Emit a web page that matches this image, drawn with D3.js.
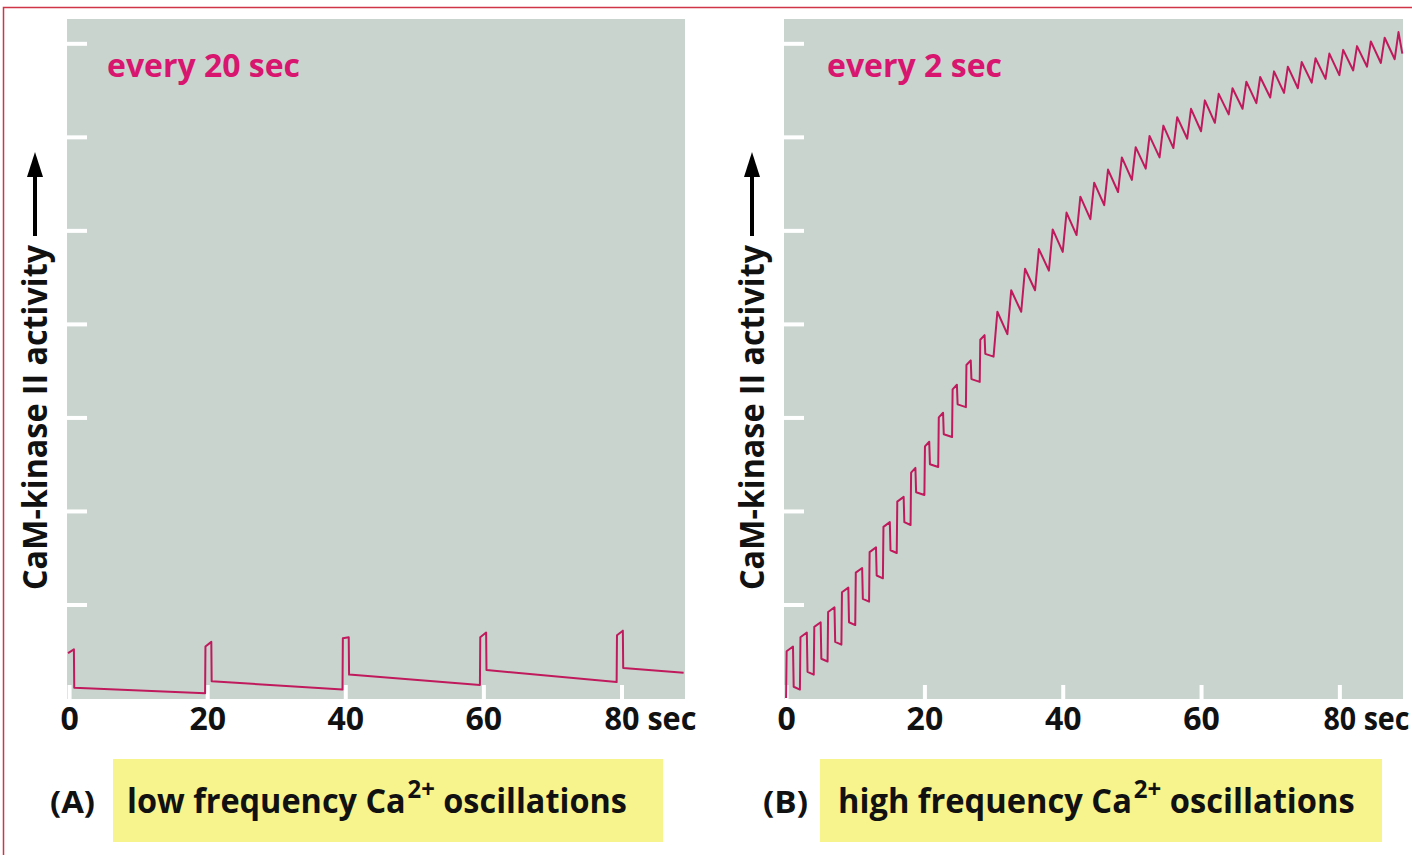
<!DOCTYPE html>
<html>
<head>
<meta charset="utf-8">
<script src="https://cdn.jsdelivr.net/npm/d3@7/dist/d3.min.js"></script>
<style>
  body { margin: 0; background: #fff; }
  svg { display: block; }
  text { font-family: "Open Sans", "Noto Sans", sans-serif; font-weight: 700; }
</style>
</head>
<body>
<div id="chart"></div>
<script>
const xTicks = [0, 20, 40, 60, 80];
const yTicks = [1, 2, 3, 4, 5, 6, 7];

// (A) one Ca2+ pulse every 20 sec
const lowPulseTimes = [-0.2, 19.7, 39.6, 59.5, 79.3];
const lowPeakStart = [0.48, 0.55, 0.64, 0.65, 0.67];
const lowPeakEnd = [0.52, 0.60, 0.65, 0.70, 0.72];
const lowAfterDrop = [0.11, 0.18, 0.25, 0.30, 0.32];
const lowTrough = [0.05, 0.09, 0.14, 0.17, 0.27];

// (B) one Ca2+ pulse every 2 sec
const highPulseTimes = [0, 2, 4, 6, 8, 10, 12, 14, 16, 18, 20, 22, 24, 26, 28, 30, 32, 34, 36, 38,
  40, 42, 44, 46, 48, 50, 52, 54, 56, 58, 60, 62, 64, 66, 68, 70, 72, 74, 76, 78, 80, 82, 84, 86, 88];
const highPeaks = [0.55, 0.70, 0.81, 0.97, 1.18, 1.39, 1.61, 1.88, 2.15, 2.46, 2.74, 3.05, 3.35,
  3.61, 3.88, 4.13, 4.36, 4.59, 4.80, 5.01, 5.19, 5.36, 5.51, 5.65, 5.78, 5.89, 6.01, 6.12, 6.21,
  6.30, 6.39, 6.46, 6.52, 6.59, 6.64, 6.70, 6.75, 6.80, 6.84, 6.89, 6.93, 6.97, 7.02, 7.06, 7.12];
const highTroughs = [0.09, 0.25, 0.39, 0.57, 0.78, 1.03, 1.28, 1.55, 1.85, 2.17, 2.47, 2.79, 3.11,
  3.38, 3.65, 3.89, 4.13, 4.36, 4.57, 4.77, 4.95, 5.12, 5.27, 5.41, 5.54, 5.66, 5.78, 5.88, 5.98,
  6.06, 6.15, 6.24, 6.30, 6.36, 6.42, 6.47, 6.52, 6.58, 6.62, 6.66, 6.71, 6.75, 6.79, 6.83, 6.89];

const endTime = 89.1;
const squareUntil = 28;   // early pulses are square, later ones saw-tooth

const colors = {
  plot: '#c9d4cf',
  trace: '#c01a5c',
  title: '#d8156f',
  box: '#f7f38d',
  frame: '#d03447'
};

const width = 1412, height = 855;
const svg = d3.select('#chart').append('svg')
  .attr('width', width)
  .attr('height', height);

svg.append('rect')
  .attr('x', 3.5).attr('y', 7.5)
  .attr('width', width + 10).attr('height', height + 10)
  .attr('fill', 'none')
  .attr('stroke', colors.frame)
  .attr('stroke-width', 1.5);

function lowPoints() {
  const pts = [];
  lowPulseTimes.forEach((t, i) => {
    if (i > 0) pts.push([t, lowTrough[i - 1]]);
    pts.push([t + 0.05, lowPeakStart[i]]);
    pts.push([t + 0.9, lowPeakEnd[i]]);
    pts.push([t + 0.95, lowAfterDrop[i]]);
    const next = i < lowPulseTimes.length - 1 ? lowPulseTimes[i + 1] : endTime - 0.1;
    pts.push([next, lowTrough[i]]);
  });
  return pts;
}

function highPoints() {
  const pts = [[0, 0]];
  highPulseTimes.forEach((t, i) => {
    const prev = i > 0 ? highTroughs[i - 1] : 0;
    const next = i < highPulseTimes.length - 1 ? highPulseTimes[i + 1] : endTime;
    pts.push([t, prev]);
    if (t <= squareUntil) {
      const hold = t < 18 ? 1.0 : 0.7;
      pts.push([t + 0.08, highPeaks[i] - 0.05]);
      pts.push([t + hold, highPeaks[i]]);
      pts.push([t + hold + 0.1, highTroughs[i] + 0.03]);
      pts.push([next, highTroughs[i]]);
    } else {
      pts.push([t + 0.55, highPeaks[i]]);
      pts.push([next, highTroughs[i]]);
    }
  });
  return pts;
}

const panels = [
  { left: 67, right: 685, title: 'every 20 sec', titleX: 107, titleW: 193,
    labelX: 47, letter: '(A)', letterX: 50, boxX: 113, boxW: 550, secW: 92,
    caption: 'low frequency Ca', captionX: 127, captionW: 500, points: lowPoints() },
  { left: 784, right: 1403, title: 'every 2 sec', titleX: 827, titleW: 175,
    labelX: 764, letter: '(B)', letterX: 763, boxX: 820, boxW: 562, secW: 86,
    caption: 'high frequency Ca', captionX: 838, captionW: 517, points: highPoints() }
];

const plotTop = 19, plotBottom = 699;

panels.forEach(p => {
  const x = d3.scaleLinear().domain([-0.3, 89.2]).range([p.left, p.right]);
  const y = d3.scaleLinear().domain([0, 7.26]).range([698, plotTop]);

  const g = svg.append('g');

  g.append('rect')
    .attr('x', p.left).attr('y', plotTop)
    .attr('width', p.right - p.left).attr('height', plotBottom - plotTop)
    .attr('fill', colors.plot);

  // white tick marks inside plot
  const yAxis = g.append('g')
    .attr('transform', `translate(${p.left - 2},0)`)
    .call(d3.axisRight(y).tickValues(yTicks).tickSize(22).tickFormat(''));
  yAxis.select('.domain').remove();
  yAxis.selectAll('line').attr('stroke', '#fff').attr('stroke-width', 4);

  const xAxis = g.append('g')
    .attr('transform', `translate(0,${plotBottom})`)
    .call(d3.axisBottom(x).tickValues(xTicks).tickSize(-14));
  xAxis.select('.domain').remove();
  xAxis.selectAll('line').attr('stroke', '#fff').attr('stroke-width', 4);
  xAxis.selectAll('text')
    .attr('fill', '#111')
    .attr('font-size', 32)
    .attr('font-family', '"Open Sans", sans-serif')
    .attr('font-weight', 700)
    .attr('dy', null)
    .attr('y', 31);
  // "80 sec": keep the number centred on its tick, squeeze the whole label
  xAxis.selectAll('.tick').filter(d => d === 80).select('text')
    .each(function () {
      const w = this.getComputedTextLength();
      const t = d3.select(this).attr('text-anchor', 'start').attr('x', 0).text('80 sec');
      const full = this.getComputedTextLength();
      const s = p.secW / full;
      t.attr('transform', `translate(${-w * s / 2},0) scale(${s},1)`);
    });

  g.append('path')
    .datum(p.points)
    .attr('fill', 'none')
    .attr('stroke', colors.trace)
    .attr('stroke-width', 2)
    .attr('stroke-linejoin', 'round')
    .attr('d', d3.line().x(d => x(d[0])).y(d => y(d[1])));

  g.append('text')
    .attr('x', p.titleX).attr('y', 77)
    .attr('fill', colors.title)
    .attr('font-size', 33)
    .attr('textLength', p.titleW)
    .attr('lengthAdjust', 'spacingAndGlyphs')
    .text(p.title);

  // y label with arrow
  g.append('text')
    .attr('transform', `translate(${p.labelX},590) rotate(-90)`)
    .attr('fill', '#111')
    .attr('font-size', 34)
    .attr('textLength', 345)
    .attr('lengthAdjust', 'spacingAndGlyphs')
    .text('CaM-kinase II activity');
  const ax = p.labelX - 12;
  g.append('line')
    .attr('x1', ax).attr('x2', ax)
    .attr('y1', 236).attr('y2', 172)
    .attr('stroke', '#000').attr('stroke-width', 4);
  g.append('path')
    .attr('d', `M${ax - 8},177 L${ax},152 L${ax + 8},177 Z`)
    .attr('fill', '#000');

  // caption
  g.append('rect')
    .attr('x', p.boxX).attr('y', 759)
    .attr('width', p.boxW).attr('height', 83)
    .attr('fill', colors.box);
  g.append('text')
    .attr('x', p.letterX).attr('y', 813)
    .attr('fill', '#111')
    .attr('font-size', 31)
    .attr('textLength', 45)
    .attr('lengthAdjust', 'spacingAndGlyphs')
    .text(p.letter);
  const capG = g.append('g');
  const cap = capG.append('text')
    .attr('fill', '#111')
    .attr('font-size', 34);
  cap.append('tspan').text(p.caption);
  cap.append('tspan').attr('dx', 2).attr('dy', -15).attr('font-size', 25).text('2+');
  cap.append('tspan').attr('dy', 15).text(' oscillations');
  const capW = cap.node().getBBox().width;
  capG.attr('transform', `translate(${p.captionX},813) scale(${p.captionW / capW},1)`);
});
</script>
</body>
</html>
